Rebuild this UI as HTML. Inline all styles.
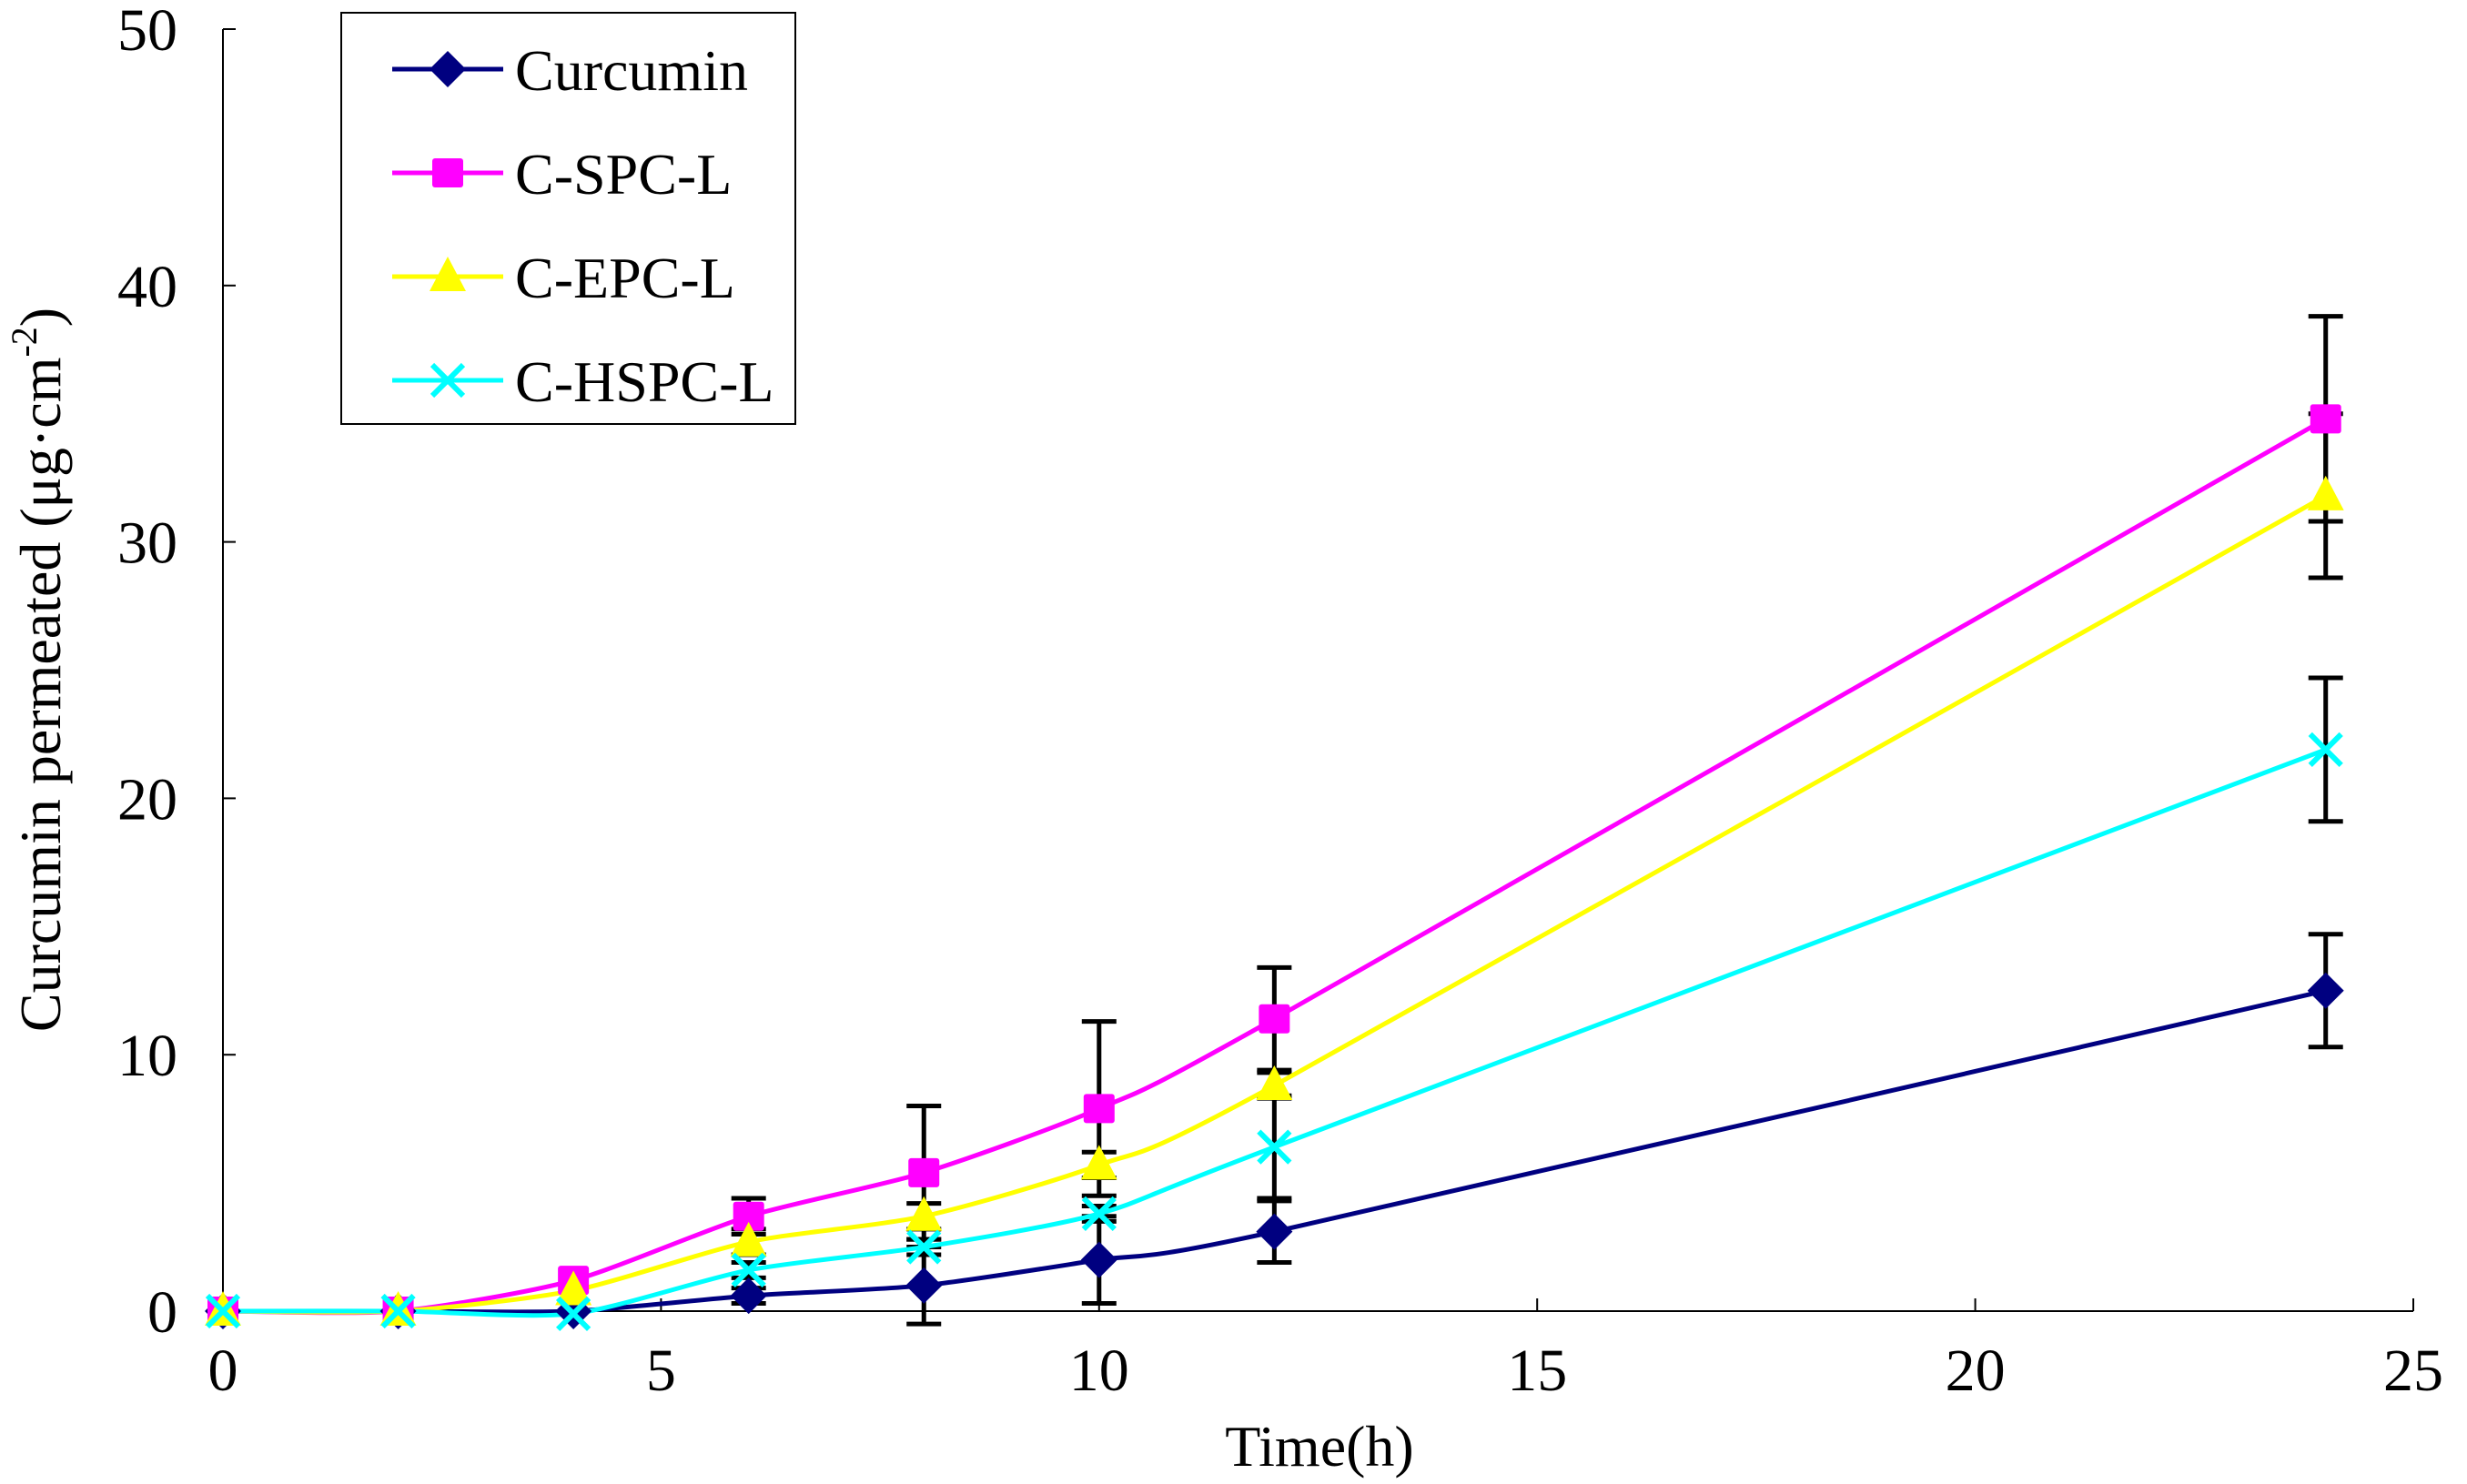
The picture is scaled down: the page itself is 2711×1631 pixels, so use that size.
<!DOCTYPE html>
<html><head><meta charset="utf-8"><style>
html,body{margin:0;padding:0;background:#fff}
svg{display:block}
text{font-family:"Liberation Serif",serif;fill:#000}
</style></head><body>
<svg id="chart" width="2711" height="1631" viewBox="0 0 2711 1631" xmlns="http://www.w3.org/2000/svg" font-family="Liberation Serif, serif">
<g id="axes"></g>
<g id="series"></g>
<text x="1450" y="1611" font-size="64" text-anchor="middle" font-family="Liberation Serif, serif">Time(h)</text>
<text transform="translate(66,736) rotate(-90)" font-size="64" text-anchor="middle" font-family="Liberation Serif, serif">Curcumin permeated (μg·cm<tspan font-size="40" dy="-26">-2</tspan><tspan dy="26">)</tspan></text>
<g id="legend">
<rect x="375" y="14" width="499" height="452" fill="#fff" stroke="#000" stroke-width="2"/>
</g>
</svg>
<script>
const times = [0,2,4,6,8,10,12,24];
const seriesNames = ["Curcumin","C-SPC-L","C-EPC-L","C-HSPC-L"];
const curcuminVals = [0,0,0,0.6,1.0,2.0,3.1,12.5];
const spcVals = [0,0,1.2,3.7,5.4,7.9,11.4,34.8];
const epcVals = [0,0,0.8,2.7,3.7,5.7,8.8,31.8];
const hspcVals = [0,0,-0.1,1.6,2.5,3.8,6.4,21.9];
const curcuminErr = [0,0,0,0.3,1.5,1.7,1.2,2.2];
const spcErr = [0,0,0.2,0.7,2.6,3.4,2.0,4.0];
const epcErr = [0,0,0.2,0.5,0.5,0.5,0.5,3.2];
const hspcErr = [0,0,0,0.3,0.3,0.3,2.0,2.8];
const xTicks = [0,5,10,15,20,25];
const yTicks = [0,10,20,30,40,50];

const X0=245,X1=2652,Y0=1441,Y1=32;
const xs=v=>X0+(v-0)/(25-0)*(X1-X0);
const ys=v=>Y0-(v-0)/(50-0)*(Y0-Y1);
const NS="http://www.w3.org/2000/svg";
const FF="Liberation Serif, serif";
function mk(tag,attrs,parent){const e=document.createElementNS(NS,tag);for(const k in attrs)e.setAttribute(k,attrs[k]);parent.appendChild(e);return e;}

const axes=document.getElementById('axes');
let e=mk('line',{x1:X0,y1:Y1,x2:X0,y2:Y0,stroke:'#000','stroke-width':2},axes);


e=mk('line',{x1:X0,y1:Y0,x2:X1,y2:Y0,stroke:'#000','stroke-width':2},axes);


yTicks.forEach(t=>{
  const l=mk('line',{x1:X0,y1:ys(t),x2:X0+14,y2:ys(t),stroke:'#000','stroke-width':2},axes);
  
  
  const tx=mk('text',{x:195,y:ys(t)+23,'font-size':66,'text-anchor':'end','font-family':FF},axes);
  tx.textContent=t;
  
  
});
xTicks.forEach(t=>{
  const l=mk('line',{x1:xs(t),y1:Y0,x2:xs(t),y2:Y0-14,stroke:'#000','stroke-width':2},axes);
  
  
  const tx=mk('text',{x:xs(t),y:1528,'font-size':66,'text-anchor':'middle','font-family':FF},axes);
  tx.textContent=t;
  
  
});

const colors=["#000080","#ff00ff","#ffff00","#00ffff"];
const vals=[curcuminVals,spcVals,epcVals,hspcVals];
const errs=[curcuminErr,spcErr,epcErr,hspcErr];
const markers=["diamond","square","triangle","cross"];

function smoothPath(pts){
  let d=`M${pts[0][0]},${pts[0][1]}`;
  for(let i=0;i<pts.length-1;i++){
    const p0=pts[Math.max(0,i-1)],p1=pts[i],p2=pts[i+1],p3=pts[Math.min(pts.length-1,i+2)];
    const t=0.12;
    const c1x=p1[0]+(p2[0]-p0[0])*t,c1y=p1[1]+(p2[1]-p0[1])*t;
    const c2x=p2[0]-(p3[0]-p1[0])*t,c2y=p2[1]-(p3[1]-p1[1])*t;
    d+=` C${c1x},${c1y} ${c2x},${c2y} ${p2[0]},${p2[1]}`;
  }
  return d;
}
function marker(type,x,y,color,parent){
  let m;
  if(type==="diamond") m=mk('polygon',{points:`${x},${y-20} ${x+20},${y} ${x},${y+20} ${x-20},${y}`,fill:color},parent);
  else if(type==="square") m=mk('rect',{x:x-17,y:y-16,width:34,height:32,rx:3,fill:color},parent);
  else if(type==="triangle") m=mk('polygon',{points:`${x},${y-22} ${x+20},${y+16} ${x-20},${y+16}`,fill:color},parent);
  else { m=mk('path',{d:`M${x-17},${y-17}L${x+17},${y+17}M${x-17},${y+17}L${x+17},${y-17}`,stroke:color,'stroke-width':6,fill:'none'},parent); }
  return m;
}

const sg=document.getElementById('series');
errs.forEach((er,si)=>{
  er.forEach((v,i)=>{
    if(v<=0.25) return;
    const x=xs(times[i]),yt=ys(vals[si][i]+v),yb=ys(vals[si][i]-v);
    const g=mk('path',{d:`M${x},${yt}L${x},${yb}M${x-19},${yt}L${x+19},${yt}M${x-19},${yb}L${x+19},${yb}`,stroke:'#000','stroke-width':5,fill:'none'},sg);
    
    
  });
});
vals.forEach((v,si)=>{
  const pts=times.map((t,i)=>[xs(t),ys(v[i])]);
  const p=mk('path',{d:smoothPath(pts),stroke:colors[si],'stroke-width':5,fill:'none'},sg);
  
  
});
vals.forEach((v,si)=>{
  times.forEach((t,i)=>{
    const m=marker(markers[si],xs(t),ys(v[i]),colors[si],sg);
    
    
  });
});

const lg=document.getElementById('legend');
seriesNames.forEach((n,i)=>{
  const y=76+i*114;
  const l=mk('line',{x1:431,y1:y,x2:553,y2:y,stroke:colors[i],'stroke-width':5},lg);
  
  
  const m=marker(markers[i],492,y,colors[i],lg);
  
  
  const t=mk('text',{x:566,y:y+23,'font-size':64,'font-family':FF},lg);
  t.textContent=n;
  
  
});
</script>
</body></html>
